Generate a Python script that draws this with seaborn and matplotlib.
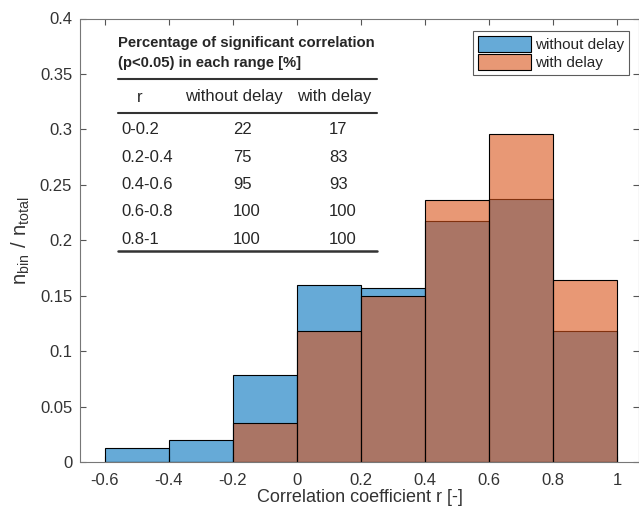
import matplotlib.pyplot as plt
import pandas as pd
import seaborn as sns

# Bin edges and normalized counts (n_bin / n_total)
bin_edges = [-0.6, -0.4, -0.2, 0.0, 0.2, 0.4, 0.6, 0.8, 1.0]
bin_centers = [-0.5, -0.3, -0.1, 0.1, 0.3, 0.5, 0.7, 0.9]
without_delay = [0.013, 0.0195, 0.0784, 0.160, 0.157, 0.217, 0.237, 0.118]
with_delay = [0.0, 0.0, 0.0354, 0.118, 0.150, 0.236, 0.296, 0.164]

# Table of significant-correlation percentages
table_ranges = ["0-0.2", "0.2-0.4", "0.4-0.6", "0.6-0.8", "0.8-1"]
table_without = [22, 75, 95, 100, 100]
table_with = [17, 83, 93, 100, 100]

df = pd.DataFrame({"r": bin_centers, "without": without_delay, "with": with_delay})

sns.set_theme(style="white")
plt.rcParams["font.family"] = ["Liberation Sans", "DejaVu Sans"]

fig = plt.figure(figsize=(6.39, 5.13), dpi=100)
ax = fig.add_axes([80.5 / 639, 1 - 462 / 513, (639 - 80.5) / 639, (462 - 18.5) / 513])

blue = "#0072BD"
orange = "#D95319"
sns.histplot(data=df, x="r", weights="without", bins=bin_edges, color=blue,
             alpha=0.6, edgecolor="black", linewidth=0.8, ax=ax,
             label="without delay")
sns.histplot(data=df, x="r", weights="with", bins=bin_edges, color=orange,
             alpha=0.6, edgecolor="black", linewidth=0.8, ax=ax,
             label="with delay")

ax.set_xlim(-0.675, 1.068)
ax.set_ylim(0, 0.4)
ax.set_xticks([-0.6, -0.4, -0.2, 0, 0.2, 0.4, 0.6, 0.8, 1])
ax.set_xticklabels(["-0.6", "-0.4", "-0.2", "0", "0.2", "0.4", "0.6", "0.8", "1"])
ax.set_yticks([0, 0.05, 0.1, 0.15, 0.2, 0.25, 0.3, 0.35, 0.4])
ax.set_yticklabels(["0", "0.05", "0.1", "0.15", "0.2", "0.25", "0.3", "0.35", "0.4"])
ax.tick_params(direction="in", length=4, width=0.8, color="#555555",
               labelsize=12, labelcolor="#333333",
               top=True, right=True, bottom=True, left=True)
ax.tick_params(axis="x", pad=8)
ax.tick_params(axis="y", pad=6)
for s in ax.spines.values():
    s.set_color("#777777")
    s.set_linewidth(0.8)

ax.set_xlabel("Correlation coefficient r [-]", fontsize=13, color="#333333", labelpad=1)
ax.set_ylabel(r"$\mathregular{n_{bin}\ /\ n_{total}}$", fontsize=14.5, color="#333333")
ax.yaxis.set_label_coords(-0.087, 0.5)

leg = ax.legend(loc="upper right", bbox_to_anchor=(0.982, 0.972), fontsize=11,
                frameon=True, fancybox=False, edgecolor="#333333",
                handlelength=3.5, handleheight=1.25, handletextpad=0.25,
                borderpad=0.3, labelspacing=0.15, borderaxespad=0)
leg.get_frame().set_linewidth(0.8)


# Inset table drawn as text, positioned in pixel-like axes coordinates
def px(x, y):
    return (x - 80.5) / (639 - 80.5), (462 - y) / (462 - 18.5)


ax.text(*px(118, 43), "Percentage of significant correlation", transform=ax.transAxes,
        fontsize=10.7, fontweight="bold", va="center", ha="left")
ax.text(*px(118, 63), "(p<0.05) in each range [%]", transform=ax.transAxes,
        fontsize=10.7, fontweight="bold", va="center", ha="left")
for yl, lw in [(79, 1.5), (112.5, 1.5), (251, 1.8)]:
    x0, y0 = px(118, yl)
    x1, _ = px(377, yl)
    ax.plot([x0, x1], [y0, y0], color="#333333", lw=lw, transform=ax.transAxes)

ax.text(*px(140, 97), "r", transform=ax.transAxes, fontsize=12, va="center", ha="center")
ax.text(*px(234, 97), "without delay", transform=ax.transAxes, fontsize=12, va="center", ha="center")
ax.text(*px(334.5, 97), "with delay", transform=ax.transAxes, fontsize=12, va="center", ha="center")
row_y = [129, 157, 184.5, 212, 239]
for i, rng in enumerate(table_ranges):
    ax.text(*px(121, row_y[i]), rng, transform=ax.transAxes, fontsize=12, va="center", ha="left")
    ax.text(*px(233, row_y[i]), str(table_without[i]), transform=ax.transAxes, fontsize=12,
            va="center", ha="left")
    ax.text(*px(329, row_y[i]), str(table_with[i]), transform=ax.transAxes, fontsize=12,
            va="center", ha="left")

fig.savefig("out.png", dpi=100)
